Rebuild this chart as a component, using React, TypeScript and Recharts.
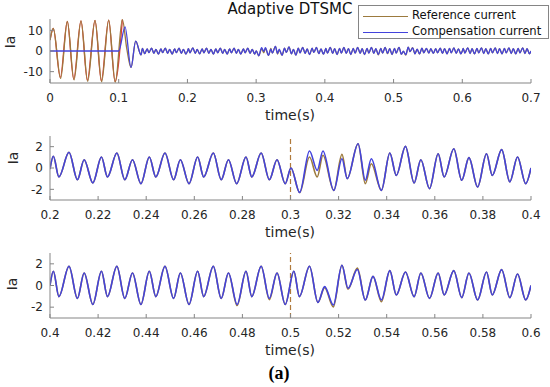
import React from "react";
import { LineChart, Line, XAxis, YAxis, ReferenceLine } from "recharts";

const FONT = '"DejaVu Sans", sans-serif';
const AXIS = "#858585";
const TXT = "#262626";
const COMP = "#4343dc";
const REF = "#9c7a3e";
const LOAD = "#e0383a";
const MARK = "#b07a3c";

// ---- subplot 1: start-up part (0 - 0.2 s)
const refStartT = [0, 0.0048, 0.0155, 0.0252, 0.035, 0.0451, 0.0549, 0.0655, 0.0752, 0.0854, 0.095, 0.1053, 0.1118, 0.1179];
const refStartV = [5.3, 10.9, -13.3, 14.3, -14.0, 14.6, -14.7, 14.8, -14.9, 15.0, -15.1, 15.2, 1.0, -8.0];
const loadStartT = [0, 0.0048, 0.0150, 0.0252, 0.0345, 0.0451, 0.0544, 0.0655, 0.0747, 0.0854, 0.0946, 0.1053];
const loadStartV = [5.3, 10.9, -12.8, 14.3, -13.6, 14.6, -14.2, 14.8, -14.4, 15.0, -14.8, 15.2];
const compStartT = [0, 0.1, 0.1092, 0.1179, 0.1247, 0.1325, 0.1345, 0.1378, 0.1414, 0.1439, 0.1478, 0.1512, 0.1542, 0.1578, 0.1614, 0.1639, 0.1678, 0.1712, 0.1742, 0.1778, 0.1814, 0.1839, 0.1878, 0.1912, 0.1942, 0.1978];
const compStartV = [0, 0, 11.7, -8.0, 4.8, -1.9, 1.2, -1.3, 1.0, -0.8, 1.4, -1.1, 0.8, -1.5, 1.0, -0.8, 1.4, -1.1, 0.8, -1.5, 1.0, -0.8, 1.4, -1.1, 0.8, -1.5];

// ---- subplot 2: 0.2 - 0.4 s
const t2 = [0.2, 0.2014, 0.2037, 0.2079, 0.2114, 0.2142, 0.2178, 0.2214, 0.2239, 0.2278, 0.2311, 0.2343, 0.2378, 0.2413, 0.244, 0.2478, 0.2514, 0.2542, 0.2578, 0.2614, 0.2639, 0.2679, 0.2712, 0.2742, 0.2776, 0.2815, 0.2839, 0.2878, 0.2912, 0.2944, 0.2978, 0.3002, 0.3038, 0.3079, 0.3111, 0.3135, 0.318, 0.3214, 0.3236, 0.3281, 0.3311, 0.3336, 0.3378, 0.3413, 0.344, 0.3478, 0.3514, 0.3542, 0.3578, 0.3614, 0.3639, 0.3679, 0.3712, 0.3742, 0.3778, 0.3815, 0.3839, 0.3878, 0.3912, 0.3944, 0.3978, 0.4];
const comp2 = [-0.1, 1.1, -0.84, 1.47, -1.1, 0.78, -1.4, 1.03, -0.84, 1.4, -1.1, 0.78, -1.47, 1.03, -0.84, 1.4, -1.1, 0.78, -1.47, 1.03, -0.84, 1.4, -1.1, 0.78, -1.47, 1.03, -0.84, 1.4, -1.1, 0.78, -1.47, 0.0, -2.3, 1.6, -0.22, 1.6, -2.1, 0.87, -1.0, 2.28, -1.15, 0.87, -2.1, 1.4, -0.7, 2.03, -1.4, 0.78, -1.94, 1.34, -0.84, 1.8, -1.15, 0.97, -1.78, 1.34, -0.7, 1.72, -1.3, 1.03, -1.47, 0.0];
const ref2 = [-0.1, 1.1, -0.84, 1.47, -1.1, 0.78, -1.4, 1.03, -0.84, 1.4, -1.1, 0.78, -1.47, 1.03, -0.84, 1.4, -1.1, 0.78, -1.47, 1.03, -0.84, 1.4, -1.1, 0.78, -1.47, 1.03, -0.84, 1.4, -1.1, 0.78, -1.47, 0.0, -2.3, 1.03, -0.84, 1.2, -2.1, 1.28, -1.0, 2.28, -1.47, 0.4, -2.1, 1.4, -0.7, 2.03, -1.4, 0.78, -1.94, 1.34, -0.84, 1.8, -1.15, 0.97, -1.78, 1.34, -0.7, 1.72, -1.3, 1.03, -1.47, 0.0];

// ---- subplot 3: 0.4 - 0.6 s
const t3 = [0.4, 0.4014, 0.4037, 0.4079, 0.4114, 0.4142, 0.4178, 0.4214, 0.4239, 0.4278, 0.4311, 0.4343, 0.4378, 0.4413, 0.444, 0.4478, 0.4514, 0.4542, 0.4578, 0.4614, 0.4639, 0.4679, 0.4712, 0.4742, 0.4778, 0.4815, 0.4839, 0.4878, 0.4912, 0.4944, 0.4978, 0.5014, 0.5037, 0.5079, 0.5114, 0.5142, 0.5178, 0.5214, 0.5239, 0.5278, 0.5311, 0.5343, 0.5378, 0.5413, 0.544, 0.5478, 0.5514, 0.5542, 0.5578, 0.5614, 0.5639, 0.5679, 0.5712, 0.5742, 0.5778, 0.5815, 0.5839, 0.5878, 0.5912, 0.5944, 0.5978, 0.6];
const comp3 = [0.0, 1.31, -1.03, 1.78, -1.19, 1.16, -1.75, 1.31, -1.03, 1.78, -1.19, 1.16, -1.75, 1.31, -1.03, 1.78, -1.19, 1.16, -1.75, 1.31, -1.03, 1.78, -1.19, 1.16, -1.75, 1.31, -1.03, 1.78, -1.19, 1.16, -1.75, 1.31, -1.03, 1.78, -1.56, -0.1, -1.8, 1.87, -0.25, 1.47, -1.34, 0.84, -1.34, 1.37, -0.87, 1.25, -1.03, 1.16, -1.19, 1.16, -0.87, 1.37, -1.12, 1.16, -1.34, 1.25, -0.87, 1.47, -1.12, 1.06, -1.34, 0.0];
const ref3 = [0.0, 1.31, -1.03, 1.78, -1.19, 1.16, -1.75, 1.31, -1.03, 1.78, -1.19, 1.16, -1.75, 1.31, -1.03, 1.78, -1.19, 1.16, -1.75, 1.31, -1.03, 1.78, -1.19, 1.16, -1.85, 1.31, -1.03, 1.78, -1.3, 1.16, -1.75, 1.31, -1.03, 1.78, -1.56, -0.2, -1.97, 1.87, -0.35, 1.6, -1.34, 0.84, -1.5, 1.37, -0.87, 1.25, -1.03, 1.16, -1.19, 1.16, -0.87, 1.37, -1.12, 1.16, -1.34, 1.25, -0.87, 1.47, -1.12, 1.06, -1.34, 0.0];

// ---- subplot 1: tail (0.6 - 0.7 s)
const tailT = [0.6014, 0.6037, 0.6079, 0.6114, 0.6142, 0.6178, 0.6214, 0.6239, 0.6279, 0.6312, 0.6342, 0.6378, 0.6414, 0.6439, 0.6479, 0.6512, 0.6542, 0.6578, 0.6614, 0.6639, 0.6679, 0.6712, 0.6742, 0.6778, 0.6814, 0.6839, 0.6879, 0.6912, 0.6942, 0.6978, 0.7];
const tailV = [1.3, -1.0, 1.5, -1.2, 1.1, -1.4, 1.3, -0.9, 1.5, -1.2, 1.1, -1.4, 1.3, -0.9, 1.5, -1.2, 1.1, -1.4, 1.3, -0.9, 1.5, -1.2, 1.1, -1.4, 1.3, -0.9, 1.5, -1.2, 1.1, -1.4, 0.0];

// ---- ticks
const xTicks1 = [0, 0.1, 0.2, 0.3, 0.4, 0.5, 0.6, 0.7];
const yTicks1 = [-10, 0, 10];
const xTicks2 = [0.2, 0.22, 0.24, 0.26, 0.28, 0.3, 0.32, 0.34, 0.36, 0.38, 0.4];
const xTicks3 = [0.4, 0.42, 0.44, 0.46, 0.48, 0.5, 0.52, 0.54, 0.56, 0.58, 0.6];
const yTicks23 = [-2, 0, 2];
const disturbTimes = [0.3, 0.5];

const zip = (t: number[], v: number[]) => t.map((x, i) => ({ t: x, v: v[i] }));

const compData1 = [
  ...zip(compStartT, compStartV),
  ...zip(t2, comp2),
  ...zip(t3, comp3).slice(1),
  ...zip(tailT, tailV),
];
const refData1 = [
  ...zip(refStartT, refStartV),
  ...zip(compStartT, compStartV).filter((d) => d.t > 0.1179),
  ...zip(t2, ref2),
  ...zip(t3, ref3).slice(1),
  ...zip(tailT, tailV),
];
const loadData1 = zip(loadStartT, loadStartV);
const compData2 = zip(t2, comp2);
const refData2 = zip(t2, ref2);
const compData3 = zip(t3, comp3);
const refData3 = zip(t3, ref3);

const fmt = (v: number) => String(parseFloat(v.toFixed(2)));
const tickStyle = { fill: TXT, fontSize: 12, fontFamily: FONT };

type PanelProps = {
  top: number;
  height: number;
  marginTop: number;
  xHeight: number;
  xDomain: [number, number];
  xTicks: number[];
  yDomain: [number, number];
  yTicks: number[];
  children: React.ReactNode;
};

function Panel(p: PanelProps) {
  return (
    <div style={{ position: "absolute", left: 0, top: p.top }}>
      <LineChart width={550} height={p.height} margin={{ top: p.marginTop, right: 19, left: 0, bottom: 0 }}>
        <XAxis
          xAxisId={0}
          dataKey="t"
          type="number"
          domain={p.xDomain}
          ticks={p.xTicks}
          interval={0}
          allowDataOverflow
          height={p.xHeight}
          tickSize={-4}
          tickMargin={14}
          tickFormatter={fmt}
          tick={tickStyle}
          stroke={AXIS}
        />
        <XAxis
          xAxisId="top"
          orientation="top"
          dataKey="t"
          type="number"
          domain={p.xDomain}
          ticks={p.xTicks}
          interval={0}
          allowDataOverflow
          height={0}
          tickSize={-4}
          tickFormatter={() => ""}
          stroke={AXIS}
        />
        <YAxis
          yAxisId={0}
          type="number"
          domain={p.yDomain}
          ticks={p.yTicks}
          interval={0}
          allowDataOverflow
          width={50}
          tickSize={-4}
          tickMargin={11}
          tick={tickStyle}
          stroke={AXIS}
        />
        <YAxis
          yAxisId="right"
          orientation="right"
          type="number"
          domain={p.yDomain}
          ticks={p.yTicks}
          interval={0}
          allowDataOverflow
          width={0}
          tickSize={-4}
          tickFormatter={() => ""}
          stroke={AXIS}
        />
        {p.children}
      </LineChart>
    </div>
  );
}

const labelBase: React.CSSProperties = {
  position: "absolute",
  transform: "translate(-50%, -50%)",
  whiteSpace: "nowrap",
  lineHeight: 1,
  fontFamily: FONT,
  color: TXT,
};

export default function App() {
  return (
    <div style={{ position: "absolute", left: 0, top: 0, width: 550, height: 387, background: "#fff", overflow: "hidden" }}>
      <Panel top={0} height={125} marginTop={19} xHeight={42} xDomain={[0, 0.7]} xTicks={xTicks1} yDomain={[-15.5, 15.5]} yTicks={yTicks1}>
        <Line data={loadData1} dataKey="v" type="monotone" stroke={LOAD} strokeWidth={1.3} dot={false} isAnimationActive={false} />
        <Line data={refData1} dataKey="v" type="monotone" stroke={REF} strokeWidth={1.3} dot={false} isAnimationActive={false} />
        <Line data={compData1} dataKey="v" type="monotone" stroke={COMP} strokeWidth={1.3} dot={false} isAnimationActive={false} />
      </Panel>
      <Panel top={120} height={125} marginTop={16} xHeight={45} xDomain={[0.2, 0.4]} xTicks={xTicks2} yDomain={[-3, 3]} yTicks={yTicks23}>
        <ReferenceLine x={disturbTimes[0]} stroke={MARK} strokeDasharray="5 3" strokeWidth={1.2} />
        <Line data={refData2} dataKey="v" type="monotone" stroke={REF} strokeWidth={1.6} dot={false} isAnimationActive={false} />
        <Line data={compData2} dataKey="v" type="monotone" stroke={COMP} strokeWidth={1.6} dot={false} isAnimationActive={false} />
      </Panel>
      <Panel top={240} height={125} marginTop={13} xHeight={47} xDomain={[0.4, 0.6]} xTicks={xTicks3} yDomain={[-3, 3]} yTicks={yTicks23}>
        <ReferenceLine x={disturbTimes[1]} stroke={MARK} strokeDasharray="5 3" strokeWidth={1.2} />
        <Line data={refData3} dataKey="v" type="monotone" stroke={REF} strokeWidth={1.6} dot={false} isAnimationActive={false} />
        <Line data={compData3} dataKey="v" type="monotone" stroke={COMP} strokeWidth={1.6} dot={false} isAnimationActive={false} />
      </Panel>

      <div style={{ ...labelBase, left: 290, top: 9, fontSize: 15, color: "#111" }}>Adaptive DTSMC</div>
      <div style={{ ...labelBase, left: 290, top: 115, fontSize: 14 }}>time(s)</div>
      <div style={{ ...labelBase, left: 290, top: 232, fontSize: 14 }}>time(s)</div>
      <div style={{ ...labelBase, left: 290, top: 350, fontSize: 14 }}>time(s)</div>
      <div style={{ ...labelBase, left: 10, top: 42, fontSize: 14, transform: "translate(-50%, -50%) rotate(-90deg)" }}>Ia</div>
      <div style={{ ...labelBase, left: 13, top: 158, fontSize: 14, transform: "translate(-50%, -50%) rotate(-90deg)" }}>Ia</div>
      <div style={{ ...labelBase, left: 12, top: 284, fontSize: 14, transform: "translate(-50%, -50%) rotate(-90deg)" }}>Ia</div>
      <div style={{ ...labelBase, left: 279, top: 373, fontSize: 18, fontFamily: '"Liberation Serif", serif', fontWeight: 700, color: "#000" }}>(a)</div>

      <div
        style={{
          position: "absolute",
          left: 358,
          top: 5,
          width: 189,
          height: 32,
          background: "#fff",
          border: `1px solid ${AXIS}`,
          fontFamily: FONT,
          fontSize: 11.6,
          color: "#111",
        }}
      >
        {[
          { name: "Reference current", color: REF, y: 10 },
          { name: "Compensation current", color: COMP, y: 26 },
        ].map((e) => (
          <div key={e.name} style={{ position: "absolute", left: 4, top: e.y - 7, height: 14, display: "flex", alignItems: "center", whiteSpace: "nowrap" }}>
            <span style={{ display: "inline-block", width: 45, height: 0, borderTop: `1.3px solid ${e.color}`, marginRight: 4 }} />
            <span style={{ lineHeight: 1 }}>{e.name}</span>
          </div>
        ))}
      </div>
    </div>
  );
}
